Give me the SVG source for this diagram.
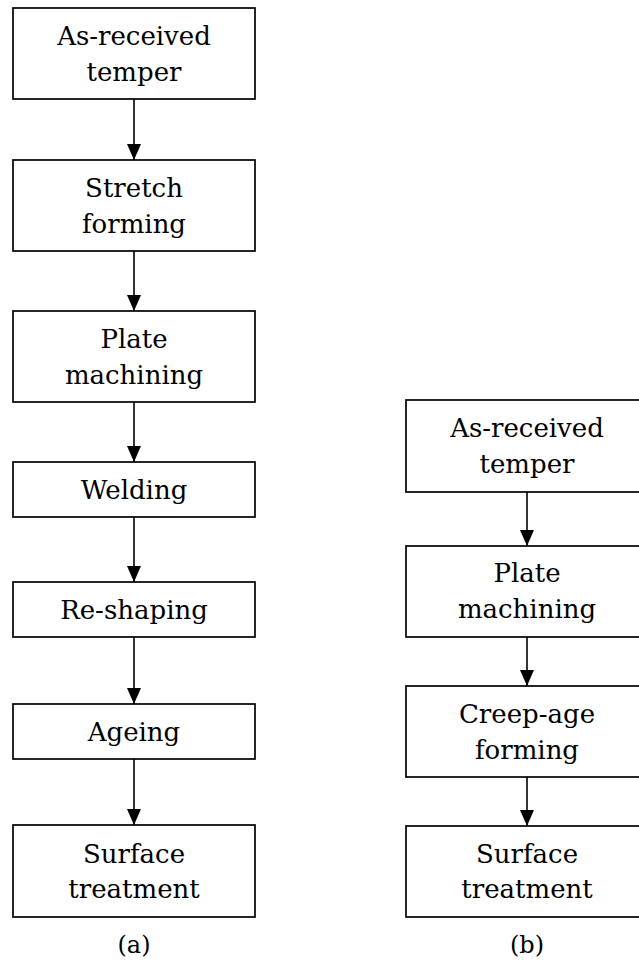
<svg xmlns="http://www.w3.org/2000/svg" width="639" height="966" viewBox="0 0 639 966">
  <style>
    .box { fill: #ffffff; stroke: #000000; stroke-width: 1.7; }
    .lbl { font-family: "DejaVu Serif", "Liberation Serif", serif; font-size: 26px; fill: #000000; text-anchor: middle; }
    .cap { font-family: "DejaVu Serif", "Liberation Serif", serif; font-size: 24px; fill: #000000; text-anchor: middle; }
    .edge { stroke: #000000; stroke-width: 1.6; fill: none; marker-end: url(#arrow); }
  </style>
  <defs>
    <marker id="arrow" viewBox="0 0 16 14" refX="16" refY="7" markerWidth="16" markerHeight="14" markerUnits="userSpaceOnUse" orient="auto">
      <path d="M0,0 L16,7 L0,14 z" fill="#000000"/>
    </marker>
  </defs>
  <rect width="639" height="966" fill="#ffffff"/>

  <!-- connectors -->
  <g id="connectors">
    <line class="edge" x1="134" y1="99" x2="134" y2="160"/>
    <line class="edge" x1="134" y1="251" x2="134" y2="311"/>
    <line class="edge" x1="134" y1="402" x2="134" y2="462"/>
    <line class="edge" x1="134" y1="517" x2="134" y2="582"/>
    <line class="edge" x1="134" y1="637" x2="134" y2="704"/>
    <line class="edge" x1="134" y1="759" x2="134" y2="825"/>
    <line class="edge" x1="527" y1="492" x2="527" y2="546"/>
    <line class="edge" x1="527" y1="637" x2="527" y2="686"/>
    <line class="edge" x1="527" y1="777" x2="527" y2="826"/>
  </g>

  <!-- route (a) -->
  <g id="a-received">
    <rect class="box" x="13" y="8" width="242" height="91"/>
    <text class="lbl" x="134" y="45">As-received</text>
    <text class="lbl" x="134" y="81">temper</text>
  </g>
  <g id="a-stretch">
    <rect class="box" x="13" y="160" width="242" height="91"/>
    <text class="lbl" x="134" y="197">Stretch</text>
    <text class="lbl" x="134" y="233">forming</text>
  </g>
  <g id="a-machining">
    <rect class="box" x="13" y="311" width="242" height="91"/>
    <text class="lbl" x="134" y="348">Plate</text>
    <text class="lbl" x="134" y="384">machining</text>
  </g>
  <g id="a-welding">
    <rect class="box" x="13" y="462" width="242" height="55"/>
    <text class="lbl" x="134" y="499">Welding</text>
  </g>
  <g id="a-reshaping">
    <rect class="box" x="13" y="582" width="242" height="55"/>
    <text class="lbl" x="134" y="619">Re-shaping</text>
  </g>
  <g id="a-ageing">
    <rect class="box" x="13" y="704" width="242" height="55"/>
    <text class="lbl" x="134" y="741">Ageing</text>
  </g>
  <g id="a-surface">
    <rect class="box" x="13" y="825" width="242" height="92"/>
    <text class="lbl" x="134" y="863">Surface</text>
    <text class="lbl" x="134" y="898">treatment</text>
  </g>
  <text class="cap" x="134" y="953">(a)</text>

  <!-- route (b) -->
  <g id="b-received">
    <rect class="box" x="406" y="400" width="242" height="92"/>
    <text class="lbl" x="527" y="437">As-received</text>
    <text class="lbl" x="527" y="473">temper</text>
  </g>
  <g id="b-machining">
    <rect class="box" x="406" y="546" width="242" height="91"/>
    <text class="lbl" x="527" y="582">Plate</text>
    <text class="lbl" x="527" y="618">machining</text>
  </g>
  <g id="b-creep">
    <rect class="box" x="406" y="686" width="242" height="91"/>
    <text class="lbl" x="527" y="723">Creep-age</text>
    <text class="lbl" x="527" y="759">forming</text>
  </g>
  <g id="b-surface">
    <rect class="box" x="406" y="826" width="242" height="91"/>
    <text class="lbl" x="527" y="863">Surface</text>
    <text class="lbl" x="527" y="898">treatment</text>
  </g>
  <text class="cap" x="527" y="953">(b)</text>
</svg>
